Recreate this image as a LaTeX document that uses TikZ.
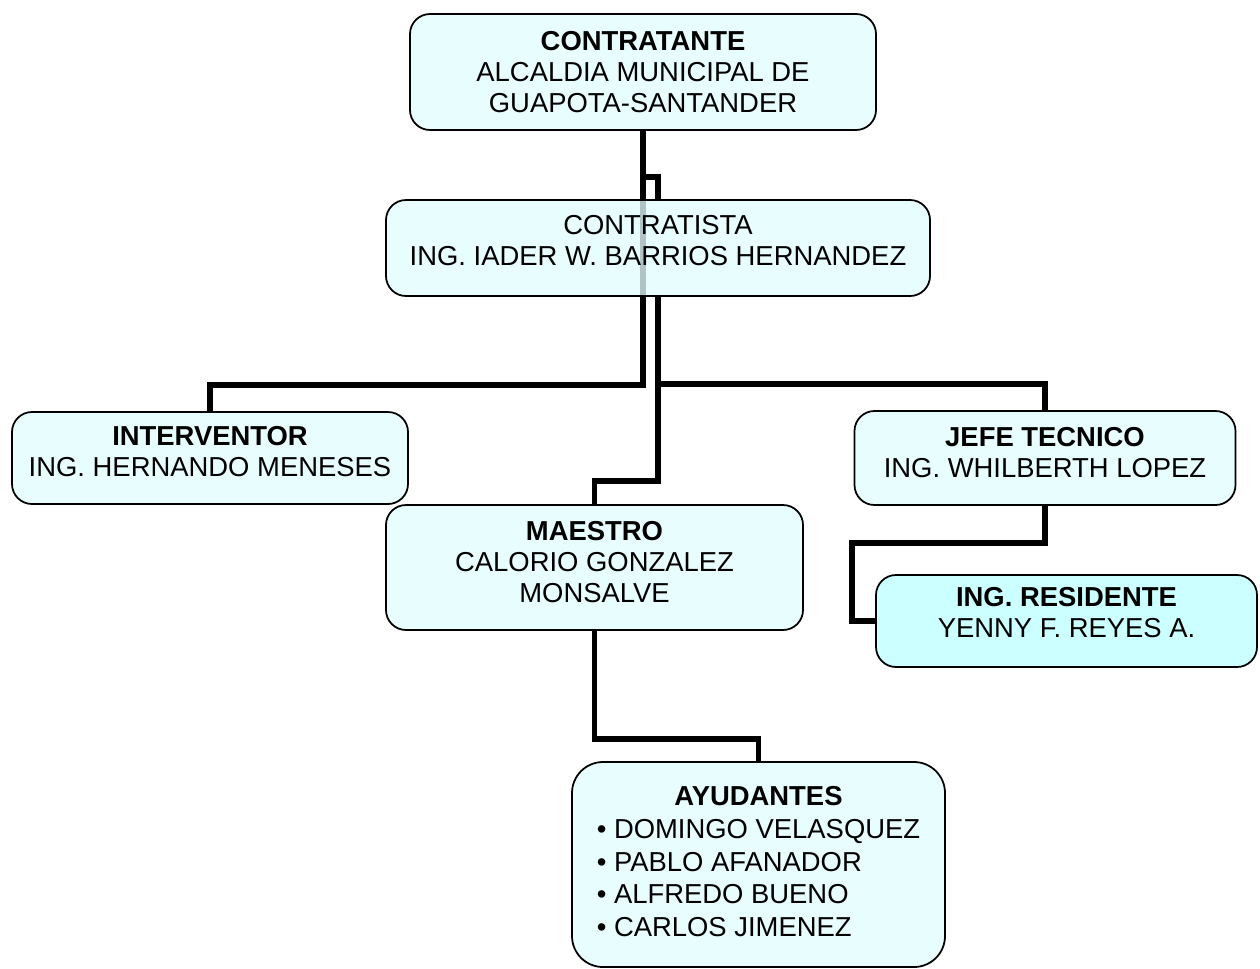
\documentclass[tikz,border=0pt]{standalone}
\usepackage{fontspec}
\setmainfont{Liberation Sans}
\usetikzlibrary{calc, backgrounds}
\usepackage{xcolor}
\definecolor{cajaclara}{RGB}{226, 252, 253}
\definecolor{cajaceleste}{RGB}{204, 255, 255}

\begin{document}
\begin{tikzpicture}[
    font=\fontsize{15.6}{17.6}\selectfont,
    caja/.style={draw=black, line width=1pt, rounded corners=0.4cm,
                 fill=cajaclara, fill opacity=0.78, text opacity=1,
                 align=center, inner sep=0pt},
    enlace/.style={draw=black, line width=3.1pt}]

    \useasboundingbox (0,0) rectangle (25.2,-19.36);

    % ==========================================================
    % centros de las cajas
    % ==========================================================
    \coordinate (contratante) at (12.86,-1.44);
    \coordinate (contratista) at (13.16,-4.96);
    \coordinate (interventor) at (4.20,-9.16);
    \coordinate (jefe)        at (20.90,-9.16);
    \coordinate (maestro)     at (11.89,-11.35);
    \coordinate (residente)   at (21.33,-12.42);
    \coordinate (ayudantes)   at (15.17,-17.29);

    % ==========================================================
    % cajas del organigrama
    % ==========================================================
    \node[caja, minimum width=9.32cm, minimum height=2.32cm] (n-contratante) at (contratante)
         {\textbf{CONTRATANTE}\\ALCALDIA MUNICIPAL DE\\GUAPOTA-SANTANDER};
    \node[caja, text depth=0.30cm, minimum width=10.88cm, minimum height=1.92cm]
         (n-contratista) at (contratista)
         {CONTRATISTA\\ING. IADER W. BARRIOS HERNANDEZ};
    \node[caja, text depth=0.26cm, minimum width=7.92cm, minimum height=1.84cm]
         (n-interventor) at (interventor)
         {\textbf{INTERVENTOR}\\ING. HERNANDO MENESES};
    \node[caja, text depth=0.22cm, minimum width=7.62cm, minimum height=1.88cm]
         (n-jefe) at (jefe)
         {\textbf{JEFE TECNICO}\\ING. WHILBERTH LOPEZ};
    \node[caja, text depth=0.22cm, minimum width=8.34cm, minimum height=2.50cm]
         (n-maestro) at (maestro)
         {\textbf{MAESTRO}\\CALORIO GONZALEZ\\MONSALVE};
    \node[caja, fill=cajaceleste, fill opacity=1, text depth=0.34cm,
          minimum width=7.62cm, minimum height=1.84cm] (n-residente) at (residente)
         {\textbf{ING. RESIDENTE}\\YENNY F. REYES A.};
    \node[caja, rounded corners=0.62cm, minimum width=7.46cm, minimum height=4.10cm]
         (n-ayudantes) at (ayudantes)
         {\renewcommand{\arraystretch}{1.057}%
          \begin{tabular}{@{}l@{}}
            \multicolumn{1}{c}{\textbf{AYUDANTES}}\\
            \textbullet\ DOMINGO VELASQUEZ\\
            \textbullet\ PABLO AFANADOR\\
            \textbullet\ ALFREDO BUENO\\
            \textbullet\ CARLOS JIMENEZ
          \end{tabular}};

    % ==========================================================
    % conectores, de caja a caja (debajo de las cajas)
    % ==========================================================
    \begin{pgfonlayer}{background}
        \draw[enlace] (n-contratante.south) -- (n-contratante.south |- 0,-7.70)
                      -| (n-interventor.north);
        \draw[enlace] (n-contratante.south) |- ($(n-contratista.north)+(0,0.44)$)
                      -- (n-contratista.north);
        \draw[enlace] (n-contratista.south) |- ($(n-jefe.north)+(0,0.52)$)
                      -- (n-jefe.north);
        \draw[enlace] (n-contratista.south) |- ($(n-maestro.north)+(0,0.46)$)
                      -- (n-maestro.north);
        \draw[enlace] (n-jefe.south) -- ++(0,-0.74) -| ($(n-residente.west)+(-0.46,0)$)
                      -- (n-residente.west);
        \draw[enlace] (n-maestro.south) |- ($(n-ayudantes.north)+(0,0.44)$)
                      -- (n-ayudantes.north);
    \end{pgfonlayer}

\end{tikzpicture}
\end{document}
